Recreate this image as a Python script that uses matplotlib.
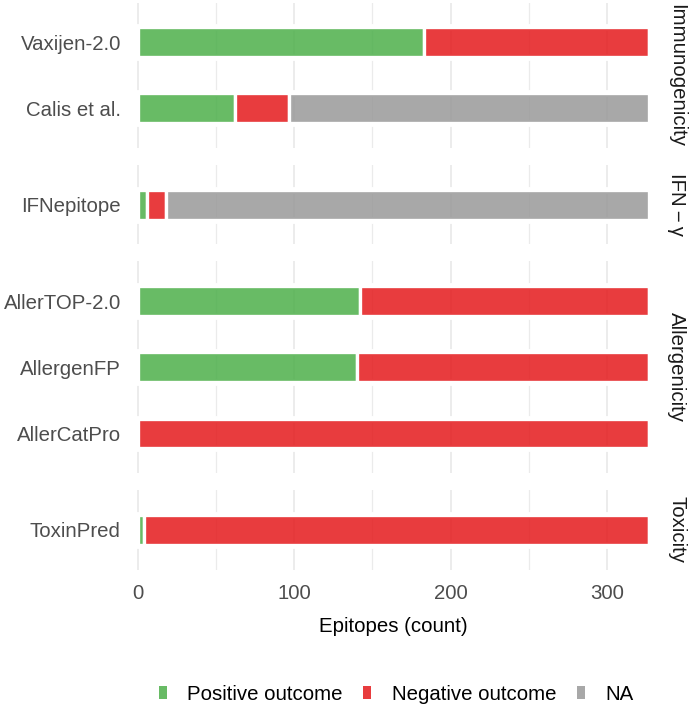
import matplotlib
matplotlib.use("Agg")
import matplotlib.pyplot as plt
from matplotlib.patches import Patch
import numpy as np

plt.rcParams['font.family'] = ['Liberation Sans', 'DejaVu Sans']

# data (epitope counts per tool)
tools = ["Vaxijen-2.0", "Calis et al.", "IFNepitope", "AllerTOP-2.0",
         "AllergenFP", "AllerCatPro", "ToxinPred"]
facets = ["Immunogenicity", "Immunogenicity", "IFN\u2009\u2212\u2009\u03b3", "Allergenicity",
          "Allergenicity", "Allergenicity", "Toxicity"]
positive = [183, 62, 6, 142, 140, 0, 4]
negative = [144, 35, 12, 185, 187, 327, 323]
na_count = [0, 230, 309, 0, 0, 0, 0]

facet_order = ["Immunogenicity", "IFN\u2009\u2212\u2009\u03b3", "Allergenicity", "Toxicity"]
outcomes = ["Positive outcome", "Negative outcome", "NA"]

colors = {"Positive outcome": (77/255, 175/255, 74/255, 0.85),
          "Negative outcome": (228/255, 26/255, 28/255, 0.85),
          "NA": (153/255, 153/255, 153/255, 0.85)}
series = {"Positive outcome": positive, "Negative outcome": negative, "NA": na_count}

W, H = 689, 708
fig = plt.figure(figsize=(W/100, H/100), dpi=100)
sizes = [facets.count(f) for f in facet_order]
px_left, px_right, px_top, px_bot = 125, 662, 2.5, 569.6
gs = fig.add_gridspec(len(facet_order), 1, height_ratios=[n + 0.2 for n in sizes],
                      left=px_left/W, right=px_right/W, top=1 - px_top/H,
                      bottom=1 - px_bot/H, hspace=0.132)

fs = 14.7
bar_h = 0.45
xlim = (-8.1, 335)

for i, name in enumerate(facet_order):
    ax = fig.add_subplot(gs[i])
    idx = [j for j, f in enumerate(facets) if f == name]
    y = np.arange(len(idx))
    left = np.zeros(len(idx))
    for o in outcomes:
        v = np.array([series[o][j] for j in idx], dtype=float)
        ax.barh(y, v, left=left, height=bar_h, color=colors[o],
                edgecolor='white', linewidth=2.4, zorder=3)
        left = left + v
    # small white gap around bars where the grid stops
    for yy in y:
        ax.hlines([yy - bar_h/2, yy + bar_h/2], xlim[0], xlim[1],
                  color='white', lw=4.9, zorder=1)
    ax.set_xlim(*xlim)
    ax.set_ylim(len(idx) - 1 + 0.6, -0.6)
    ax.set_xticks([0, 100, 200, 300])
    ax.set_xticks([50, 150, 250], minor=True)
    ax.grid(axis='x', which='major', color='#EBEBEB', lw=1.3)
    ax.grid(axis='x', which='minor', color='#EBEBEB', lw=0.9)
    ax.set_axisbelow(True)
    ax.set_yticks(y)
    ax.set_yticklabels([tools[j] for j in idx])
    for s in ax.spines.values():
        s.set_visible(False)
    ax.tick_params(axis='both', which='both', length=0, labelsize=fs,
                   labelcolor='#4D4D4D')
    ax.tick_params(axis='y', pad=3)
    ax.tick_params(axis='x', pad=10.5)
    if i < len(facet_order) - 1:
        ax.tick_params(axis='x', labelbottom=False)
    ax.text(1 + (676.7 - px_right) / (px_right - px_left), 0.5, name,
            transform=ax.transAxes, rotation=270, ha='center', va='center',
            fontsize=fs, color='#1A1A1A')

fig.text((px_left + px_right) / 2 / W, 1 - 631.5/H, "Epitopes (count)",
         ha='center', va='baseline', fontsize=fs, color='black')

handles = [Patch(facecolor=colors[o], edgecolor='none') for o in outcomes]
fig.legend(handles, outcomes, loc='center', bbox_to_anchor=(396/W, 1 - 694/H),
           ncol=3, frameon=False, handlelength=0.4, handleheight=0.65,
           handletextpad=1.0, columnspacing=1.0, fontsize=fs)

fig.savefig("out.png", dpi=100, facecolor='white')
